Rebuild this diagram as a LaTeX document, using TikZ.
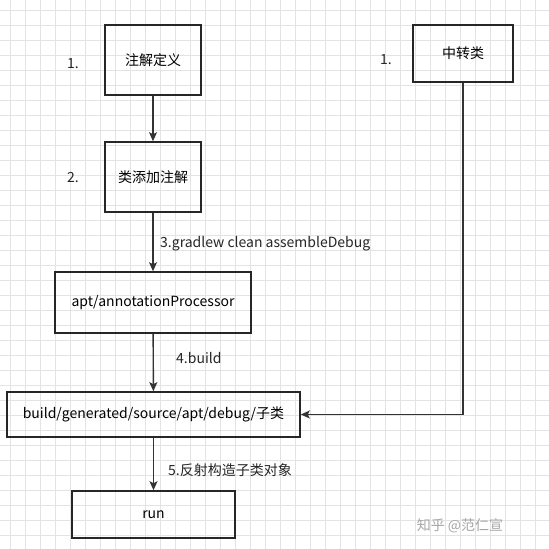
\documentclass[tikz,border=0pt]{standalone}
\usepackage{fontspec}
\setmainfont{Noto Sans CJK SC}
\usetikzlibrary{arrows.meta}
\begin{document}
\begin{tikzpicture}[x=1pt,y=-1pt,
  box/.style={draw=black!85,line width=1.6pt,inner sep=0pt,font=\fontsize{14}{16}\selectfont},
  lbl/.style={inner sep=0pt,font=\fontsize{14}{16}\selectfont,text=black!85},
  flow/.style={draw=black!80,line width=1.4pt,-{Stealth[length=9pt,width=8pt,inset=2pt]}}]
\fill[white] (0,0) rectangle (549,549);
\useasboundingbox (0,0) rectangle (549,549);
% grid
\foreach \i in {10,25,...,545}
  \draw[black!11,line width=0.6pt] (\i,0) -- (\i,549) (0,\i) -- (549,\i);
\node at (153,60) [box,minimum width=96pt,minimum height=70pt] (def) {注解定义};
\node at (153,177) [box,minimum width=96pt,minimum height=70pt] (use) {类添加注解};
\node at (463,53.5) [box,minimum width=100pt,minimum height=57pt] (mid) {中转类};
\node at (153,302.5) [box,minimum width=196pt,minimum height=61pt] (apt) {apt/annotationProcessor};
\node at (153.5,414.5) [box,minimum width=293pt,minimum height=45pt] (gen) {build/generated/source/apt/debug/子类};
\node at (153.5,514.5) [box,minimum width=163pt,minimum height=47pt] (run) {run};
\node at (73,64) [lbl] (s1) {1.};
\node at (73,178) [lbl] (s2) {2.};
\node at (386,60) [lbl] (s1r) {1.};
\node at (160,244) [lbl,anchor=west] (t3) {3.gradlew clean assembleDebug};
\node at (176,358) [lbl,anchor=west] (t4) {4.build};
\node at (168,470) [lbl,anchor=west] (t5) {5.反射构造子类对象};
\node at (460,526) [inner sep=0pt,font=\fontsize{14}{16}\selectfont,text=black!35] (wm) {知乎 @范仁宣};
\draw[flow] (def) -- (use);
\draw[flow] (use) -- (apt);
\draw[flow] (apt) -- (gen);
\draw[flow] (gen) -- (run);
\draw[flow] (mid.south) |- (gen.east);
\end{tikzpicture}
\end{document}
